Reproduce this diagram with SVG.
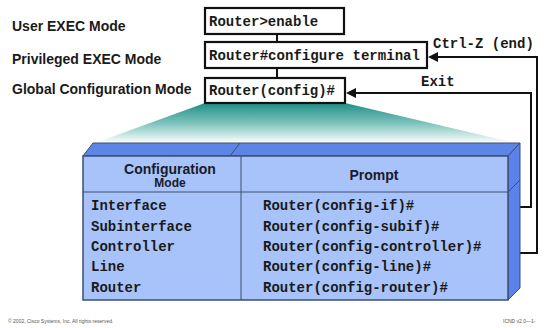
<svg xmlns="http://www.w3.org/2000/svg" width="544" height="328" viewBox="0 0 544 328">
<style>
.lbl{font-family:"Liberation Sans",Arial,sans-serif;font-weight:bold;font-size:14px;fill:#1a1a1a}
.code{font-family:"Liberation Mono","Courier New",monospace;font-weight:bold;font-size:14px;fill:#1a1a1a}
.box{fill:#fff;stroke:#111;stroke-width:2.2}
.wire{fill:none;stroke:#111;stroke-width:2}
.hdr{font-family:"Liberation Sans",Arial,sans-serif;font-weight:bold;fill:#1a1a2a;text-anchor:middle}
.foot{font-family:"Liberation Sans",Arial,sans-serif;font-size:5px;fill:#555}
</style>
<defs>
<marker id="arr" markerWidth="8" markerHeight="8" refX="7" refY="4" orient="auto" markerUnits="userSpaceOnUse">
<path d="M8,0 L0,4 L8,8 Z" fill="#111" transform="rotate(180 4 4)"/>
</marker>
<linearGradient id="teal" x1="0" y1="0" x2="0" y2="1">
<stop offset="0" stop-color="#1f8f86"/>
<stop offset="0.5" stop-color="#7cc2bb"/>
<stop offset="1" stop-color="#ffffff"/>
</linearGradient>
</defs>
<rect width="544" height="328" fill="#fff"/>

<path d="M205,103 L345,103 L515,143 L95,143 Z" fill="url(#teal)"/>

<g id="labels">
<text class="lbl" x="12" y="31">User EXEC Mode</text>
<text class="lbl" x="12" y="64">Privileged EXEC Mode</text>
<text class="lbl" x="12" y="94">Global Configuration Mode</text>
</g>

<g id="connectors">
<line class="wire" x1="277" y1="34" x2="277" y2="42"/>
<line class="wire" x1="277" y1="68" x2="277" y2="78"/>
<polyline class="wire" points="520,253 537,253 537,57 437,57"/>
<path d="M428,57 L438,52 L438,62 Z" fill="#111"/>
<polyline class="wire" points="520,207 531,207 531,93 354,93"/>
<path d="M346,93 L356,88 L356,98 Z" fill="#111"/>
<text class="code" x="433" y="48">Ctrl-Z (end)</text>
<text class="code" x="421" y="86">Exit</text>
</g>

<g id="user-exec">
<rect class="box" x="205" y="8" width="139" height="26"/>
<text class="code" x="209" y="26">Router&gt;enable</text>
</g>
<g id="priv-exec">
<rect class="box" x="205" y="42" width="222" height="26"/>
<text class="code" x="209" y="60" textLength="211" lengthAdjust="spacingAndGlyphs">Router#configure terminal</text>
</g>
<g id="global-config">
<rect class="box" x="205" y="78" width="140" height="25"/>
<text class="code" x="209" y="95">Router(config)#</text>
</g>

<g id="table">
<path d="M83,156 L93,143 L520,143 L508,156 Z" fill="#5b86e6" stroke="#3d4e72" stroke-width="1"/>
<path d="M230,156 L240,143" stroke="#3d4e72" stroke-width="1"/>
<path d="M508,156 L520,143 L520,288 L508,300 Z" fill="#5a82ea" stroke="#3d4e72" stroke-width="1"/>
<path d="M508,192 L520,180" stroke="#3d4e72" stroke-width="1"/>
<rect x="83" y="156" width="425" height="144" fill="#a7c3f9" stroke="#3d4e72" stroke-width="1.5"/>
<line x1="83" y1="192" x2="508" y2="192" stroke="#3d4e72" stroke-width="1"/>
<line x1="241" y1="156" x2="241" y2="300" stroke="#3d4e72" stroke-width="1"/>
<text class="hdr" x="170" y="174" font-size="14">Configuration</text>
<text class="hdr" x="170" y="187" font-size="12">Mode</text>
<text class="hdr" x="374" y="180" font-size="14">Prompt</text>
<text class="code" x="91" y="210">Interface</text>
<text class="code" x="91" y="231">Subinterface</text>
<text class="code" x="91" y="251">Controller</text>
<text class="code" x="91" y="271">Line</text>
<text class="code" x="91" y="292">Router</text>
<text class="code" x="263" y="210">Router(config-if)#</text>
<text class="code" x="263" y="231">Router(config-subif)#</text>
<text class="code" x="263" y="251">Router(config-controller)#</text>
<text class="code" x="263" y="271">Router(config-line)#</text>
<text class="code" x="263" y="292">Router(config-router)#</text>
</g>

<text class="foot" x="8" y="323">© 2002, Cisco Systems, Inc. All rights reserved.</text>
<text class="foot" x="503" y="323">ICND v2.0—1-</text>
</svg>
